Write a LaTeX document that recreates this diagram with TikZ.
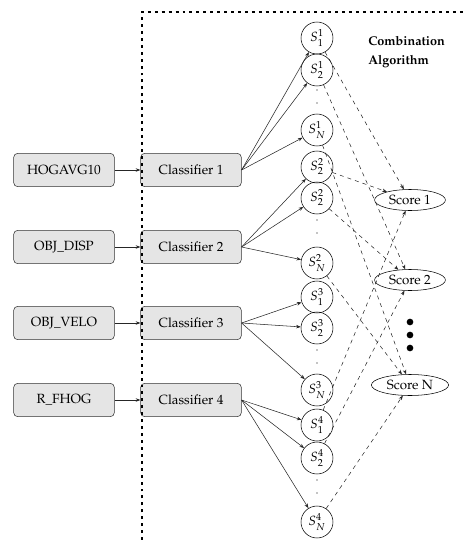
\documentclass[tikz,border=0pt]{standalone}
\usepackage[T1]{fontenc}
\usepackage{mathpazo}
\usetikzlibrary{shapes.geometric,arrows.meta}
\begin{document}
\begin{tikzpicture}[x=0.75pt,y=-0.75pt,
  box/.style={draw=black!80, fill=black!10, rounded corners=3pt, minimum width=75.5pt, minimum height=25pt, inner sep=0pt},
  state/.style={draw, circle, minimum size=24pt, inner sep=0pt},
  score/.style={draw, ellipse, inner xsep=3.2pt, inner ysep=2pt},
  feed/.style={-{Stealth[length=3.5pt,width=2.6pt]}, black!85},
  vote/.style={feed, dashed},
  frame/.style={line width=2pt, dash pattern=on 2.2pt off 3pt},
  tiny/.style={circle, fill, inner sep=0pt, minimum size=1.1pt},
  bigdot/.style={circle, fill, inner sep=0pt, minimum size=5pt}]
\useasboundingbox (0,0) rectangle (464,540);

% feature boxes
\node[box] (f1) at (64,170) {HOGAVG10};
\node[box] (f2) at (64,247) {OBJ\_DISP};
\node[box] (f3) at (64,323) {OBJ\_VELO};
\node[box] (f4) at (64,400) {R\_FHOG};

% classifiers
\node[box] (c1) at (191,170) {Classifier 1};
\node[box] (c2) at (191,247) {Classifier 2};
\node[box] (c3) at (191,323) {Classifier 3};
\node[box] (c4) at (191,400) {Classifier 4};

% per-classifier scores
\node[state] (s11) at (317,38)  {$S^1_1$};
\node[state] (s12) at (317,70)  {$S^1_2$};
\node[state] (s1n) at (317,130) {$S^1_N$};
\node[state] (s21) at (317,167) {$S^2_2$};
\node[state] (s22) at (317,198) {$S^2_2$};
\node[state] (s2n) at (317,263) {$S^2_N$};
\node[state] (s31) at (317,297) {$S^3_1$};
\node[state] (s32) at (317,328) {$S^3_2$};
\node[state] (s3n) at (317,390) {$S^3_N$};
\node[state] (s41) at (317,425) {$S^4_1$};
\node[state] (s42) at (317,458) {$S^4_2$};
\node[state] (s4n) at (317,522) {$S^4_N$};

% gaps between the second and last score of each classifier
\foreach \y in {90,103,220,233,350,363,480,493}
  \node[tiny] (g\y) at (317,\y) {};

% combined scores
\node[score] (sc1) at (410,200) {Score 1};
\node[score] (sc2) at (410,280) {Score 2};
\node[score] (scn) at (410,385) {Score N};
\node[bigdot] (d1) at (410,322) {};
\node[bigdot] (d2) at (410,335) {};
\node[bigdot] (d3) at (410,348) {};

\node[anchor=north west, align=left, inner sep=0pt, font=\fontsize{9.5}{14}\selectfont\bfseries] (title) at (368,36) {Combination\\Algorithm};

% features into classifiers
\draw[feed] (f1) -- (c1);
\draw[feed] (f2) -- (c2);
\draw[feed] (f3) -- (c3);
\draw[feed] (f4) -- (c4);

% classifiers to their scores
\foreach \c/\k in {c1/1,c2/2,c3/3,c4/4}{
  \draw[feed] (\c.east) -- (s\k1);
  \draw[feed] (\c.east) -- (s\k2);
  \draw[feed] (\c.east) -- (s\k n);
}

% scores into the combination
\draw[vote] (s11) -- (sc1);
\draw[vote] (s12) -- (sc2);
\draw[vote] (s1n) -- (scn);
\draw[vote] (s21) -- (sc1);
\draw[vote] (s22) -- (sc2);
\draw[vote] (s2n) -- (scn);
\draw[vote] (s41) -- (sc1);
\draw[vote] (s42) -- (sc2);
\draw[vote] (s4n) -- (scn);

% combination algorithm frame
\coordinate (fbot) at (142,540);
\coordinate (fcorner) at (142,12);
\coordinate (fright) at (464,12);
\draw[frame] (fbot) -- (fcorner) -- (fright);
\end{tikzpicture}
\end{document}
